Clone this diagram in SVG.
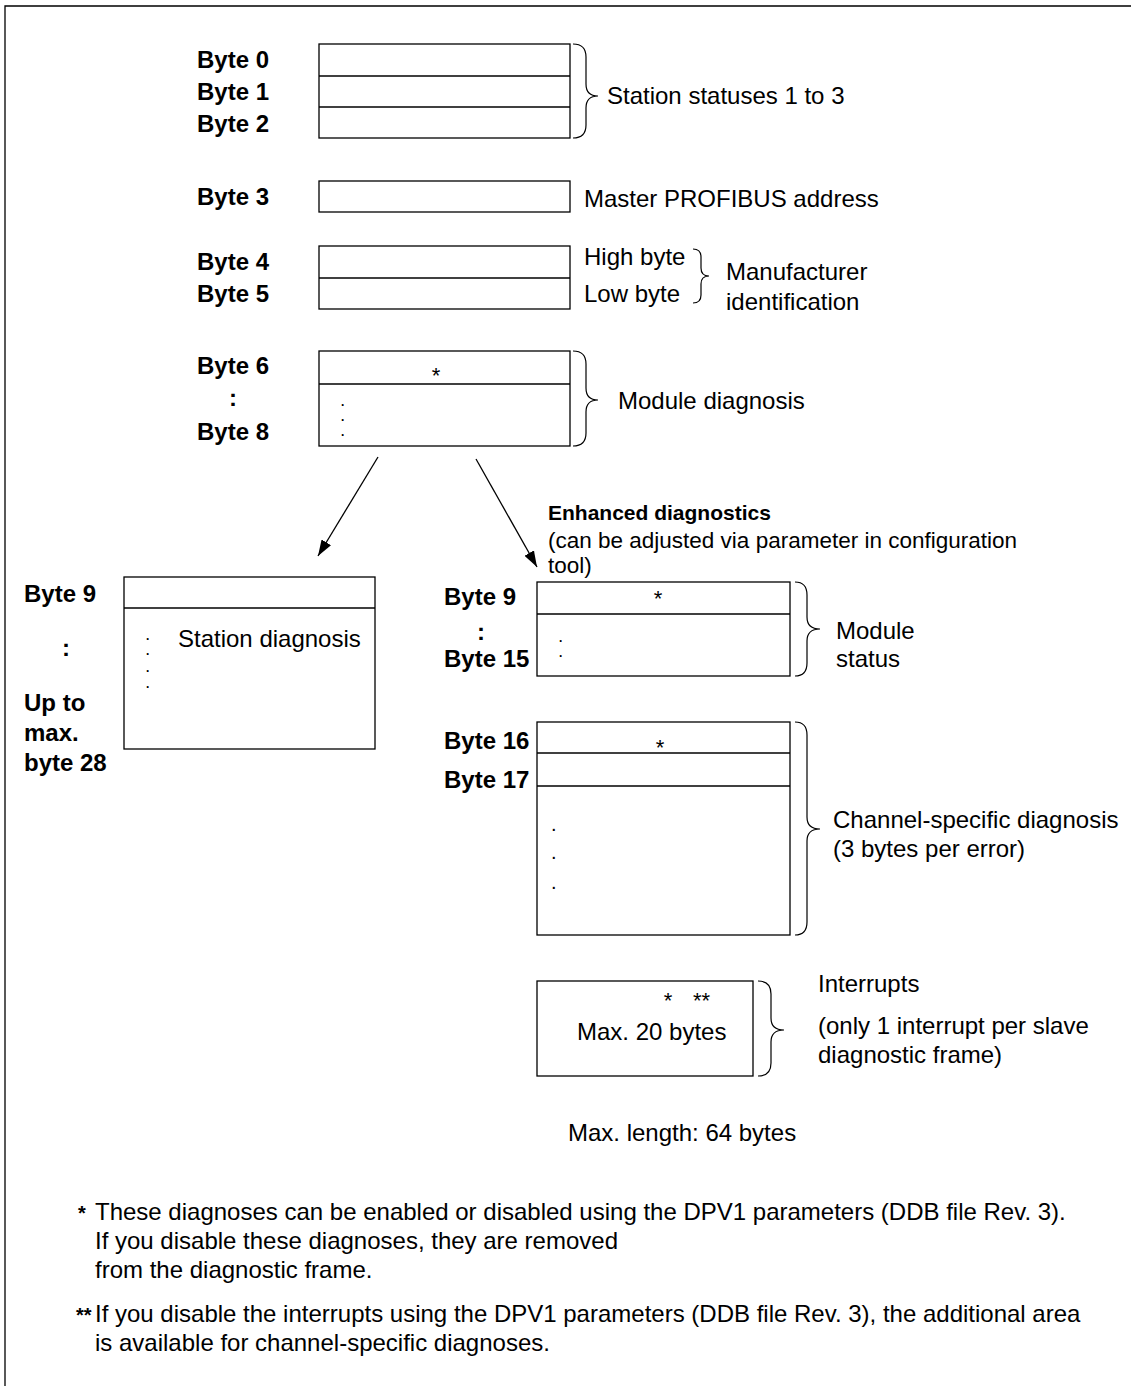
<svg xmlns="http://www.w3.org/2000/svg" width="1131" height="1386" viewBox="0 0 1131 1386">
<defs>
<marker id="ah" viewBox="0 0 16 11" refX="16" refY="5.5" markerWidth="16" markerHeight="11" markerUnits="userSpaceOnUse" orient="auto">
<path d="M0,0 L16,5.5 L0,11 Z" fill="#000"/>
</marker>
</defs>
<style>
text{font-family:"Liberation Sans",Arial,sans-serif;font-size:24px;fill:#000}
.b{font-weight:bold}
.box{fill:#fff;stroke:#000;stroke-width:1.3}
.ln{stroke:#000;stroke-width:1.3;fill:none}
.br{stroke:#000;stroke-width:1.2;fill:none}
.c{text-anchor:middle}
.s{font-size:20px}
.d{font-size:12px;font-weight:bold}
.a{font-size:22px}
.m{font-size:22.5px}
.h{font-size:21px;font-weight:bold}
</style>
<rect x="0" y="0" width="1131" height="1386" fill="#fff"/>
<path d="M5,1386 V6 H1131" class="ln" stroke-width="1.6"/>

<g id="station-status">
<rect x="319" y="44" width="251" height="94" class="box"/>
<line x1="319" y1="76" x2="570" y2="76" class="ln"/>
<line x1="319" y1="107" x2="570" y2="107" class="ln"/>
<text x="197" y="68" class="b">Byte 0</text>
<text x="197" y="100" class="b">Byte 1</text>
<text x="197" y="132" class="b">Byte 2</text>
<path class="br" d="M573,44 Q586,44 586,57 L586,84 Q586,96 598,96 Q586,96 586,108 L586,125 Q586,138 573,138"/>
<text x="607" y="104">Station statuses 1 to 3</text>
</g>

<g id="master-address">
<rect x="319" y="181" width="251" height="31" class="box"/>
<text x="197" y="205" class="b">Byte 3</text>
<text x="584" y="207">Master PROFIBUS address</text>
</g>

<g id="manufacturer-id">
<rect x="319" y="246" width="251" height="63" class="box"/>
<line x1="319" y1="278" x2="570" y2="278" class="ln"/>
<text x="197" y="270" class="b">Byte 4</text>
<text x="197" y="302" class="b">Byte 5</text>
<text x="584" y="265">High byte</text>
<text x="584" y="302">Low byte</text>
<path class="br" d="M693,249 Q701,249 701,257 L701,268 Q701,276 709,276 Q701,276 701,284 L701,295 Q701,303 693,303"/>
<text x="726" y="280">Manufacturer</text>
<text x="726" y="310">identification</text>
</g>

<g id="module-diagnosis">
<rect x="319" y="351" width="251" height="95" class="box"/>
<line x1="319" y1="384" x2="570" y2="384" class="ln"/>
<text x="436" y="383" class="c a">*</text>
<text x="341" y="406" class="d">.</text>
<text x="341" y="421" class="d">.</text>
<text x="341" y="436" class="d">.</text>
<text x="197" y="374" class="b">Byte 6</text>
<text x="229" y="406" class="b">:</text>
<text x="197" y="440" class="b">Byte 8</text>
<path class="br" d="M573,351 Q586,351 586,364 L586,388 Q586,400 598,400 Q586,400 586,412 L586,433 Q586,446 573,446"/>
<text x="618" y="409">Module diagnosis</text>
</g>

<g id="station-diagnosis">
<rect x="124" y="577" width="251" height="172" class="box"/>
<line x1="124" y1="608" x2="375" y2="608" class="ln"/>
<text x="24" y="602" class="b">Byte 9</text>
<text x="62" y="656" class="b">:</text>
<text x="24" y="711" class="b">Up to</text>
<text x="24" y="741" class="b">max.</text>
<text x="24" y="771" class="b">byte 28</text>
<text x="146" y="640" class="d">.</text>
<text x="146" y="655" class="d">.</text>
<text x="146" y="672" class="d">.</text>
<text x="146" y="688" class="d">.</text>
<text x="178" y="647">Station diagnosis</text>
</g>

<g id="enhanced-label">
<text x="548" y="520" class="h">Enhanced diagnostics</text>
<text x="548" y="548" class="m">(can be adjusted via parameter in configuration</text>
<text x="548" y="573" class="m">tool)</text>
</g>

<g id="module-status">
<rect x="537" y="582" width="253" height="94" class="box"/>
<line x1="537" y1="614" x2="790" y2="614" class="ln"/>
<text x="658" y="606" class="c a">*</text>
<text x="559" y="642" class="d">.</text>
<text x="559" y="657" class="d">.</text>
<text x="444" y="605" class="b">Byte 9</text>
<text x="477" y="640" class="b">:</text>
<text x="444" y="667" class="b">Byte 15</text>
<path class="br" d="M795,582 Q807,582 807,595 L807,617 Q807,629 820,629 Q807,629 807,641 L807,663 Q807,676 795,676"/>
<text x="836" y="639">Module</text>
<text x="836" y="667">status</text>
</g>

<g id="channel-diagnosis">
<rect x="537" y="722" width="253" height="213" class="box"/>
<line x1="537" y1="753" x2="790" y2="753" class="ln"/>
<line x1="537" y1="786" x2="790" y2="786" class="ln"/>
<text x="660" y="755" class="c a">*</text>
<text x="551" y="831" class="s">.</text>
<text x="551" y="859" class="s">.</text>
<text x="551" y="889" class="s">.</text>
<text x="444" y="749" class="b">Byte 16</text>
<text x="444" y="788" class="b">Byte 17</text>
<path class="br" d="M795,722 Q807,722 807,735 L807,817 Q807,829 820,829 Q807,829 807,841 L807,922 Q807,935 795,935"/>
<text x="833" y="828">Channel-specific diagnosis</text>
<text x="833" y="857">(3 bytes per error)</text>
</g>

<g id="interrupts">
<rect x="537" y="981" width="216" height="95" class="box"/>
<text x="668" y="1008" class="c a">*</text>
<text x="693" y="1008" class="a">**</text>
<text x="577" y="1040">Max. 20 bytes</text>
<path class="br" d="M758,981 Q771,981 771,994 L771,1018 Q771,1030 784,1030 Q771,1030 771,1042 L771,1063 Q771,1076 758,1076"/>
<text x="818" y="992">Interrupts</text>
<text x="818" y="1034">(only 1 interrupt per slave</text>
<text x="818" y="1063">diagnostic frame)</text>
</g>

<g id="max-length">
<text x="568" y="1141">Max. length: 64 bytes</text>
</g>

<g id="connectors">
<line x1="378" y1="457" x2="318" y2="556" class="ln" stroke-width="1.2" marker-end="url(#ah)"/>
<line x1="476" y1="459" x2="537" y2="567" class="ln" stroke-width="1.2" marker-end="url(#ah)"/>
</g>

<g id="footnotes">
<text x="78" y="1220" class="b s">*</text>
<text x="95" y="1220">These diagnoses can be enabled or disabled using the DPV1 parameters (DDB file Rev. 3).</text>
<text x="95" y="1249"> If you disable these diagnoses, they are removed</text>
<text x="95" y="1278">from the diagnostic frame.</text>
<text x="76" y="1322" class="b s">**</text>
<text x="95" y="1322">If you disable the interrupts using the DPV1 parameters (DDB file Rev. 3), the additional area</text>
<text x="95" y="1351">is available for channel-specific diagnoses.</text>
</g>
</svg>
